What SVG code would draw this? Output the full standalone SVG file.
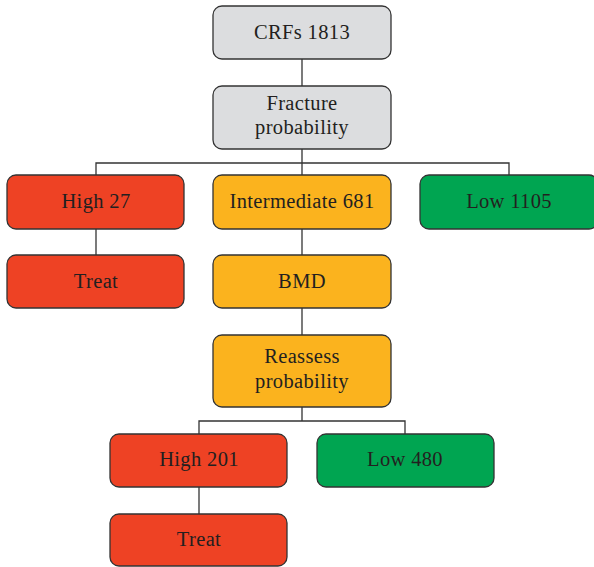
<svg xmlns="http://www.w3.org/2000/svg" width="594" height="567" viewBox="0 0 594 567">
<style>
.box{stroke:#333;stroke-width:1.3}
.gray{fill:#dcdddf}
.red{fill:#ee4224}
.orange{fill:#fbb31e}
.green{fill:#00a551}
text{font-family:"Liberation Serif","Times New Roman",serif;font-size:20.5px;letter-spacing:0.35px;fill:#231f20;text-anchor:middle}
.conn{fill:none;stroke:#333;stroke-width:1.3}
</style>
<rect width="594" height="567" fill="#fff"/>
<g id="connectors">
<path class="conn" d="M302 59V86"/>
<path class="conn" d="M302 149V163M96 175V163H509V175M302 163V175"/>
<path class="conn" d="M96 229V255"/>
<path class="conn" d="M302 229V255"/>
<path class="conn" d="M302 308V335"/>
<path class="conn" d="M302 407V421M199 434V421H405V434"/>
<path class="conn" d="M199 487V514"/>
</g>
<g id="crfs"><rect class="box gray" x="213" y="6" width="178" height="53" rx="9"/><text x="302" y="39">CRFs 1813</text></g>
<g id="fracture"><rect class="box gray" x="213" y="86" width="178" height="63" rx="9"/><text x="302" y="110">Fracture</text><text x="302" y="134">probability</text></g>
<g id="high27"><rect class="box red" x="7" y="175" width="177" height="54" rx="9"/><text x="96" y="208">High 27</text></g>
<g id="intermediate"><rect class="box orange" x="213" y="175" width="178" height="54" rx="9"/><text x="302" y="208">Intermediate 681</text></g>
<g id="low1105"><rect class="box green" x="420" y="175" width="178" height="54" rx="9"/><text x="509" y="208">Low 1105</text></g>
<g id="treat1"><rect class="box red" x="7" y="255" width="177" height="53" rx="9"/><text x="96" y="288">Treat</text></g>
<g id="bmd"><rect class="box orange" x="213" y="255" width="178" height="53" rx="9"/><text x="302" y="288">BMD</text></g>
<g id="reassess"><rect class="box orange" x="213" y="335" width="178" height="72" rx="9"/><text x="302" y="363">Reassess</text><text x="302" y="388">probability</text></g>
<g id="high201"><rect class="box red" x="110" y="434" width="177" height="53" rx="9"/><text x="199" y="466">High 201</text></g>
<g id="low480"><rect class="box green" x="317" y="434" width="177" height="53" rx="9"/><text x="405" y="466">Low 480</text></g>
<g id="treat2"><rect class="box red" x="110" y="514" width="177" height="52" rx="9"/><text x="199" y="546">Treat</text></g>
</svg>
